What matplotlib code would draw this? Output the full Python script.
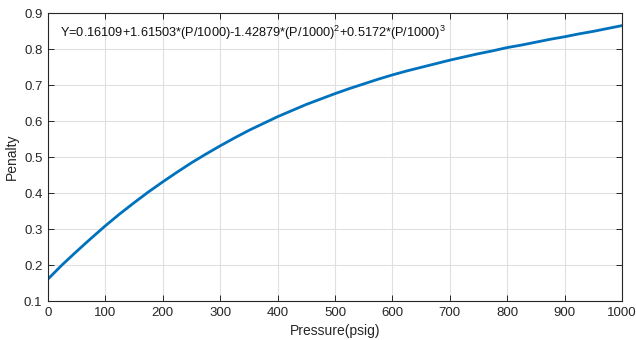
import matplotlib
matplotlib.use("Agg")
import matplotlib.pyplot as plt

pressure = [0, 25, 50, 75, 100, 125, 150, 175, 200, 225, 250, 275, 300, 325, 350, 375,
            400, 425, 450, 475, 500, 525, 550, 575, 600, 625, 650, 675, 700, 725, 750,
            775, 800, 825, 850, 875, 900, 925, 950, 975, 1000]
penalty = [0.161, 0.201, 0.238, 0.274, 0.309, 0.342, 0.373, 0.403, 0.431, 0.458, 0.484,
           0.508, 0.531, 0.553, 0.574, 0.593, 0.612, 0.629, 0.646, 0.661, 0.676, 0.690,
           0.703, 0.716, 0.728, 0.739, 0.749, 0.759, 0.769, 0.778, 0.787, 0.795, 0.804,
           0.811, 0.819, 0.827, 0.834, 0.842, 0.849, 0.857, 0.865]
x_ticks = [0, 100, 200, 300, 400, 500, 600, 700, 800, 900, 1000]
y_ticks = [0.1, 0.2, 0.3, 0.4, 0.5, 0.6, 0.7, 0.8, 0.9]
equation = r"Y=0.16109+1.61503*(P/1000)-1.42879*(P/1000)$^2$+0.5172*(P/1000)$^3$"

plt.rcParams['font.family'] = ['Liberation Sans', 'DejaVu Sans']
plt.rcParams['mathtext.fontset'] = 'custom'
plt.rcParams['mathtext.rm'] = 'Liberation Sans'

fig = plt.figure(figsize=(6.36, 3.4), dpi=100)
ax = fig.add_axes([48/636, 1-301/340, (622-48)/636, (301-13)/340])

ax.plot(pressure, penalty, color='#0072BD', linewidth=2)
ax.set_xlim(0, 1000)
ax.set_ylim(0.1, 0.9)
ax.set_xticks(x_ticks)
ax.set_yticks(y_ticks)
ax.set_yticklabels([f"{v:g}" for v in y_ticks])
ax.grid(True, color='#e0e0e0', linewidth=0.8)
ax.set_axisbelow(True)
ax.tick_params(direction='in', top=True, right=True, labelsize=9.5, colors='#262626',
               length=4, width=0.7, pad=4)
for s in ax.spines.values():
    s.set_color('#262626')
    s.set_linewidth(0.8)
ax.set_xlabel("Pressure(psig)", fontsize=10, color='#262626', labelpad=4)
ax.set_ylabel("Penalty", fontsize=10, color='#262626', labelpad=4)
ax.text(21, 0.846, equation, fontsize=9.2, color='#111111', va='center', ha='left')

fig.savefig("out.png", dpi=100)
